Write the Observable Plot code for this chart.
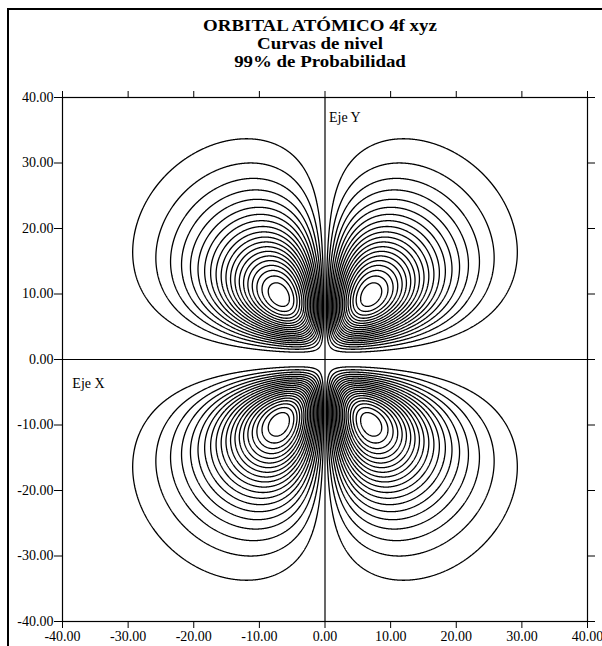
<!DOCTYPE html>
<html><head><meta charset="utf-8">
<script src="https://cdn.jsdelivr.net/npm/d3@7"></script>
<script src="https://cdn.jsdelivr.net/npm/@observablehq/plot@0.6"></script>
<style>
html,body{margin:0;padding:0;background:#fff;width:602px;height:646px;overflow:hidden;}
#outer{position:absolute;left:7px;top:8px;width:700px;height:700px;border:2px solid #000;box-sizing:border-box;z-index:5;pointer-events:none;}
#title{position:absolute;left:0;width:640px;top:17px;text-align:center;font-family:"Liberation Serif",serif;font-weight:bold;font-size:16px;line-height:18px;color:#000;transform:scaleX(1.18);transform-origin:320px 0;}
#chart{position:absolute;left:0;top:80px;}
</style></head><body>
<div id="outer"></div>
<div id="title"></div>
<div id="chart"></div>
<script>
// Text
const titleLines = ["ORBITAL ATÓMICO 4f xyz", "Curvas de nivel", "99% de Probabilidad"];
const axisNameY = ["Eje Y"];
const axisNameX = ["Eje X"];
// Tick values
const xTicks = [-40, -30, -20, -10, 0, 10, 20, 30, 40];
const yTicks = [-40, -30, -20, -10, 0, 10, 20, 30, 40];
// Contour levels of |psi| (outermost = 99% contour)
const levels = [1.78, 3.36, 4.94, 6.52, 8.10, 9.68, 11.26, 12.84, 14.42, 16.00,
                17.58, 19.16, 20.74, 22.32, 23.90, 25.48, 27.06, 28.64, 30.22, 31.80];

// 4f xyz wavefunction (unnormalised) in the plotted plane
const psi = (x, y) => Math.abs(x * y * y * Math.exp(-Math.hypot(x, y) / 4));

document.getElementById("title").innerHTML = titleLines.map(t => `<div>${t}</div>`).join("");

const fmt = d => d.toFixed(2);
const chart = Plot.plot({
  width: 602,
  height: 566,
  marginLeft: 62,
  marginRight: 15,
  marginTop: 17,
  marginBottom: 25,
  style: {fontFamily: "Liberation Serif, serif", fontSize: "14px", color: "black", background: "transparent"},
  x: {domain: [-40, 40]},
  y: {domain: [-40, 40]},
  marks: [
    Plot.contour({value: psi, x1: -40, x2: 40, y1: -40, y2: 40, thresholds: levels,
                  fill: "none", stroke: "black", strokeWidth: 1.3, pixelSize: 0.5}),
    Plot.ruleX([0], {stroke: "black", strokeWidth: 1.2}),
    Plot.ruleY([0], {stroke: "black", strokeWidth: 1.2}),
    Plot.frame({stroke: "black", strokeWidth: 1.2}),
    Plot.axisX({anchor: "bottom", ticks: xTicks, tickFormat: fmt, tickSize: 7, tickPadding: 3, label: null}),
    Plot.axisX({anchor: "top", ticks: xTicks, tickFormat: () => "", tickSize: 7, label: null}),
    Plot.axisY({anchor: "left", ticks: yTicks, tickFormat: fmt, tickSize: 8, tickPadding: 1, label: null}),
    Plot.axisY({anchor: "right", ticks: yTicks, tickFormat: () => "", tickSize: 7, label: null}),
    Plot.text(axisNameY, {x: 0.6, y: 36.3, text: d => d, textAnchor: "start", lineAnchor: "bottom", fill: "black"}),
    Plot.text(axisNameX, {x: -38.5, y: -4.4, text: d => d, textAnchor: "start", lineAnchor: "bottom", fill: "black"})
  ]
});
document.getElementById("chart").appendChild(chart);
</script>
</body></html>
